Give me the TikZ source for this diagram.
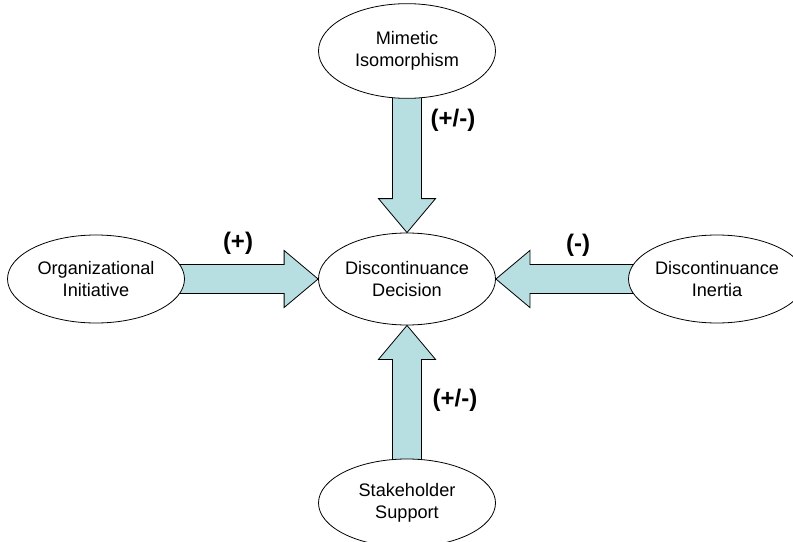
\documentclass[tikz,border=0pt]{standalone}
\usepackage{fontspec}
\setmainfont{Liberation Sans}
\usepackage{xcolor}
\usetikzlibrary{shapes.geometric, calc, backgrounds}

\definecolor{shaftblue}{RGB}{183,222,224}

\tikzset{
  construct/.style={ellipse, draw, line width=0.6pt, fill=white,
    minimum width=132.75pt, minimum height=66pt, inner sep=0pt,
    align=center, font=\fontsize{13.6}{16.5}\selectfont},
  effect/.style={font=\fontsize{18}{21}\selectfont\bfseries},
  blockfill/.style={draw, line width=0.6pt, fill=shaftblue}
}

% block arrow from node #1 to anchor #2
\newcommand{\blockarrow}[2]{%
  \path ($(#2)!25.5pt!(#1)$) coordinate (hb);
  \draw[blockfill] ($(#1)!10.9pt!90:(#2)$) -- ($(hb)!10.9pt!-90:(#1)$)
    -- ($(hb)!21.4pt!-90:(#1)$) -- (#2) -- ($(hb)!21.4pt!90:(#1)$)
    -- ($(hb)!10.9pt!90:(#1)$) -- ($(#1)!10.9pt!-90:(#2)$) -- cycle;}

\begin{document}
\begin{tikzpicture}[x=0.75pt, y=-0.75pt]
\useasboundingbox (0,0) rectangle (793,542);
\clip (0,0) rectangle (793,542);

% constructs
\node[construct, minimum height=69pt] (dec) at (407,279) {Discontinuance\\Decision};
\node[construct, minimum height=71pt] (mim) at (407,51) {Mimetic\\Isomorphism};
\node[construct] (org) at (96,279) {Organizational\\Initiative};
\node[construct] (ine) at (717,279) {Discontinuance\\Inertia};
\node[construct] (sta) at (407,503) {Stakeholder\\Support};

% arrows
\begin{scope}[on background layer]
\blockarrow{mim}{dec.north}
\blockarrow{org}{dec.west}
\blockarrow{ine}{dec.east}
\blockarrow{sta}{dec.south}
\end{scope}

% signs
\node[effect] (smim) at (453,120) {(+/-)};
\node[effect] (sorg) at (238,243) {(+)};
\node[effect] (sine) at (578,245) {(-)};
\node[effect] (ssta) at (455,400) {(+/-)};

\end{tikzpicture}
\end{document}
